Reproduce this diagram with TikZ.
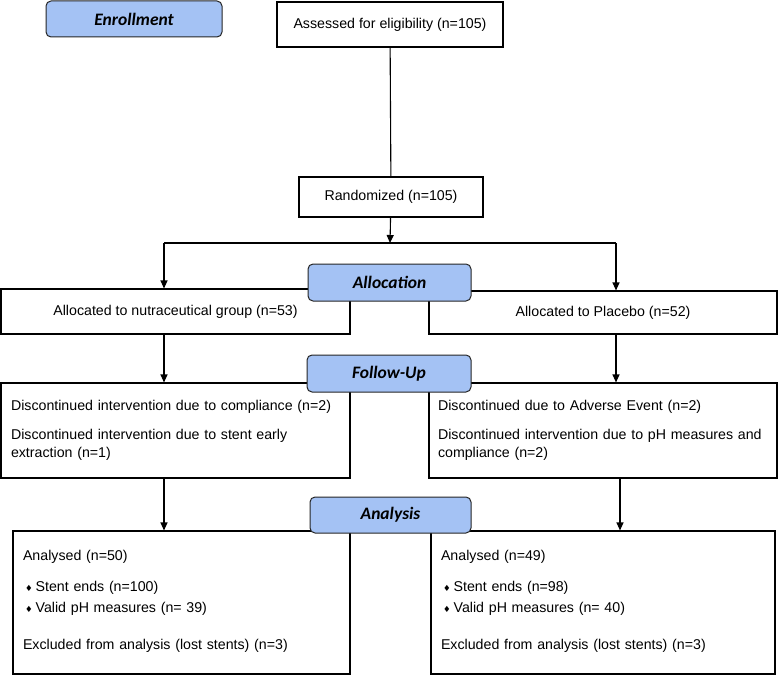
\documentclass[tikz,border=0pt]{standalone}
\usepackage{fontspec}
\setmainfont{Liberation Sans}
\newfontfamily\stagefont{Carlito}
\newfontfamily\symfont{DejaVu Sans}
\usepackage{tikz}
\usetikzlibrary{arrows.meta, calc}

\definecolor{stageblue}{HTML}{A4C2F4}
\newcommand{\dia}{{\symfont\fontsize{8.5}{8.5}\selectfont ♦}\hspace{3pt}}

\tikzset{
    stage/.style={draw=black!85, fill=stageblue, rounded corners=5pt, line width=1pt,
        font=\stagefont\fontsize{17.5}{17.5}\selectfont\bfseries\itshape,
        inner sep=0pt},
    plainbox/.style={draw=black, fill=white, line width=1.1pt, inner sep=0pt,
        font=\fontsize{14.2}{18}\selectfont},
    textbox/.style={plainbox, inner xsep=10pt, inner ysep=0pt, align=left},
}

\begin{document}
\begin{tikzpicture}[x=1pt, y=-1pt, >={Triangle[length=8pt,width=7pt]}]

    \useasboundingbox (0,0) rectangle (778,676);

    % -------------------------
    % Column positions
    % -------------------------
    \coordinate (lcol) at (164,0);
    \coordinate (rcol) at (616,0);
    \coordinate (rcolb) at (620,0);
    \coordinate (split) at (390,243);

    % -------------------------
    % Enrollment
    % -------------------------
    \node[plainbox, minimum width=226pt, minimum height=45pt] (assessed) at (390,24.5)
        {Assessed for eligibility (n=105)};
    \node[plainbox, minimum width=184pt, minimum height=40pt] (random) at (391,197)
        {Randomized (n=105)};

    % -------------------------
    % Allocation
    % -------------------------
    \node[plainbox, minimum width=349pt, minimum height=45pt] (allocL) at (175.5,311.5)
        {Allocated to nutraceutical group (n=53)};
    \node[plainbox, minimum width=348pt, minimum height=43pt] (allocR) at (603,312.5)
        {Allocated to Placebo (n=52)};

    % -------------------------
    % Follow-up
    % -------------------------
    \node[textbox, text width=329pt, minimum height=95pt] (followL) at (175.5,430.5)
        {Discontinued intervention due to compliance (n=2)\\[11pt]
         Discontinued intervention due to stent early\\
         extraction (n=1)};
    \node[textbox, text width=330pt, minimum height=95pt, inner xsep=9pt] (followR) at (603,430.5)
        {Discontinued due to Adverse Event (n=2)\\[11pt]
         Discontinued intervention due to pH measures and\\
         compliance (n=2)};

    % -------------------------
    % Analysis
    % -------------------------
    \node[textbox, text width=317pt, minimum height=143pt] (anaL) at (181.5,602.5)
        {Analysed (n=50)\\[13pt]
         \hspace{2pt}\dia Stent ends (n=100)\\[3pt]
         \hspace{2pt}\dia Valid pH measures (n= 39)\\[19pt]
         Excluded from analysis (lost stents) (n=3)\\[-13pt]\mbox{}};
    \node[textbox, text width=324pt, minimum height=143pt] (anaR) at (603,602.5)
        {Analysed (n=49)\\[13pt]
         \hspace{2pt}\dia Stent ends (n=98)\\[3pt]
         \hspace{2pt}\dia Valid pH measures (n= 40)\\[19pt]
         Excluded from analysis (lost stents) (n=3)\\[-13pt]\mbox{}};

    % -------------------------
    % Connectors
    % -------------------------
    \draw[line width=1.1pt] (assessed) -- (random);
    \draw[->, line width=1.1pt] (random) -- (split);
    \draw[line width=1.1pt] (split -| lcol) -- (split -| rcol);
    \draw[->, line width=1.1pt] (split -| lcol) -- (allocL.north -| lcol);
    \draw[->, line width=1.1pt] (split -| rcol) -- (allocR.north -| rcol);
    \draw[->, line width=1.1pt] (allocL.south -| lcol) -- (followL.north -| lcol);
    \draw[->, line width=1.1pt] (allocR.south -| rcol) -- (followR.north -| rcol);
    \draw[->, line width=1.1pt] (followL.south -| lcol) -- (anaL.north -| lcol);
    \draw[->, line width=1.1pt] (followR.south -| rcolb) -- (anaR.north -| rcolb);

    % -------------------------
    % Stage labels
    % -------------------------
    \node[stage, minimum width=176pt, minimum height=36pt] (enroll) at (134,19) {Enrollment};
    \node[stage, minimum width=163pt, minimum height=37pt] (allocation) at (389.5,282.5) {Allocation};
    \node[stage, minimum width=164pt, minimum height=37pt] (followup) at (389,373.5) {Follow-Up};
    \node[stage, minimum width=161pt, minimum height=36pt] (analysis) at (390.5,515) {Analysis};

\end{tikzpicture}
\end{document}
